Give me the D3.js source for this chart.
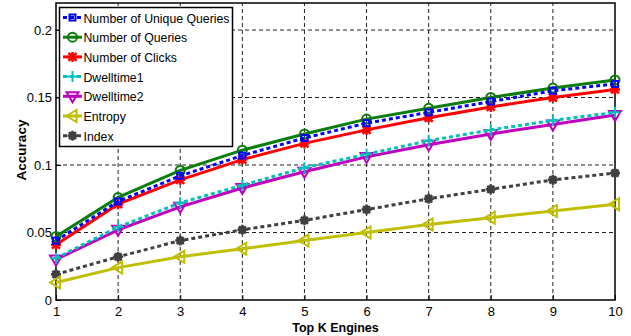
<!DOCTYPE html>
<html>
<head>
<meta charset="utf-8">
<script src="https://cdn.jsdelivr.net/npm/d3@7.9.0/dist/d3.min.js"></script>
<style>
  body { margin: 0; background: #fff; }
  svg text { font-family: "Liberation Sans", Arial, sans-serif; }
</style>
</head>
<body>
<svg id="chart" width="631" height="336"></svg>
<script>
// data
const topK = [1, 2, 3, 4, 5, 6, 7, 8, 9, 10];
const uniqueQueries = [0.044, 0.073, 0.092, 0.107, 0.120, 0.131, 0.139, 0.147, 0.155, 0.160];
const numQueries = [0.047, 0.076, 0.096, 0.111, 0.123, 0.134, 0.142, 0.150, 0.157, 0.163];
const numClicks = [0.041, 0.071, 0.089, 0.104, 0.116, 0.126, 0.135, 0.143, 0.150, 0.156];
const dwell1 = [0.031, 0.054, 0.072, 0.085, 0.098, 0.108, 0.118, 0.126, 0.133, 0.139];
const dwell2 = [0.030, 0.052, 0.069, 0.083, 0.095, 0.106, 0.115, 0.123, 0.130, 0.137];
const entropy = [0.013, 0.024, 0.032, 0.038, 0.044, 0.050, 0.056, 0.061, 0.066, 0.071];
const indexVals = [0.019, 0.032, 0.044, 0.052, 0.059, 0.067, 0.075, 0.082, 0.089, 0.094];
const yTicks = [0, 0.05, 0.1, 0.15, 0.2];

const series = [
  { name: 'Number of Unique Queries', values: uniqueQueries, color: '#0000ff', dash: '4,3', marker: 'square' },
  { name: 'Number of Queries', values: numQueries, color: '#0a7d0a', dash: null, marker: 'circle' },
  { name: 'Number of Clicks', values: numClicks, color: '#ff0000', dash: null, marker: 'star' },
  { name: 'Dwelltime1', values: dwell1, color: '#00bfbf', dash: '4,3', marker: 'plus' },
  { name: 'Dwelltime2', values: dwell2, color: '#bf00bf', dash: null, marker: 'triDown' },
  { name: 'Entropy', values: entropy, color: '#bfbf00', dash: null, marker: 'triLeft' },
  { name: 'Index', values: indexVals, color: '#404040', dash: '4,3', marker: 'blob' }
];

const svg = d3.select('#chart');
const margin = { left: 56, right: 16, top: 3, bottom: 36 };
const W = 631, H = 336;

const x = d3.scaleLinear().domain([1, 10]).range([margin.left, W - margin.right]);
const y = d3.scaleLinear().domain([0, 0.22]).range([H - margin.bottom, margin.top]);

// grid
const grid = svg.append('g');
grid.selectAll('line.vx').data(topK.slice(1, -1)).enter().append('line')
  .attr('x1', d => x(d)).attr('x2', d => x(d))
  .attr('y1', y(0)).attr('y2', y(0.22))
  .attr('stroke', '#222').attr('stroke-width', 1).attr('stroke-dasharray', '4,3');
grid.selectAll('line.hy').data(yTicks.slice(1)).enter().append('line')
  .attr('x1', x(1)).attr('x2', x(10))
  .attr('y1', d => y(d)).attr('y2', d => y(d))
  .attr('stroke', '#222').attr('stroke-width', 1).attr('stroke-dasharray', '4,3');

// axes
const xAxis = d3.axisBottom(x).tickValues(topK).tickSize(-5).tickPadding(7).tickFormat(d3.format('d'));
const yAxis = d3.axisLeft(y).tickValues(yTicks).tickSize(-5).tickPadding(4).tickFormat(d => d === 0 ? '0' : String(d));

const gx = svg.append('g').attr('transform', `translate(0,${y(0)})`).call(xAxis);
const gy = svg.append('g').attr('transform', `translate(${x(1)},0)`).call(yAxis);
[gx, gy].forEach(g => {
  g.select('.domain').remove();
  g.selectAll('.tick line').attr('stroke', '#000');
  g.selectAll('.tick text').attr('font-size', 13).attr('fill', '#000');
});

// frame
svg.append('rect')
  .attr('x', x(1)).attr('y', y(0.22))
  .attr('width', x(10) - x(1)).attr('height', y(0) - y(0.22))
  .attr('fill', 'none').attr('stroke', '#000').attr('stroke-width', 1.5);

function drawMarker(g, type, color, cx, cy) {
  const s = 4;
  if (type === 'square') {
    g.append('rect').attr('x', cx - 3).attr('y', cy - 3).attr('width', 6).attr('height', 6)
      .attr('fill', 'none').attr('stroke', color).attr('stroke-width', 2);
  } else if (type === 'circle') {
    g.append('circle').attr('cx', cx).attr('cy', cy).attr('r', 4.5)
      .attr('fill', 'none').attr('stroke', color).attr('stroke-width', 2);
  } else if (type === 'star') {
    const p = d3.path();
    p.moveTo(cx - s, cy - s); p.lineTo(cx + s, cy + s);
    p.moveTo(cx - s, cy + s); p.lineTo(cx + s, cy - s);
    p.moveTo(cx, cy - s - 1); p.lineTo(cx, cy + s + 1);
    p.moveTo(cx - s - 1, cy); p.lineTo(cx + s + 1, cy);
    g.append('path').attr('d', p.toString()).attr('stroke', color).attr('stroke-width', 2.5).attr('fill', 'none');
  } else if (type === 'plus') {
    const p = d3.path();
    p.moveTo(cx, cy - 5.5); p.lineTo(cx, cy + 5.5);
    p.moveTo(cx - 5.5, cy); p.lineTo(cx + 5.5, cy);
    g.append('path').attr('d', p.toString()).attr('stroke', color).attr('stroke-width', 2).attr('fill', 'none');
  } else if (type === 'triDown') {
    g.append('path').attr('d', `M${cx - 6},${cy - 4}L${cx + 6},${cy - 4}L${cx},${cy + 6}Z`)
      .attr('fill', 'none').attr('stroke', color).attr('stroke-width', 2);
  } else if (type === 'triLeft') {
    g.append('path').attr('d', `M${cx + 4},${cy - 6}L${cx + 4},${cy + 6}L${cx - 6},${cy}Z`)
      .attr('fill', 'none').attr('stroke', color).attr('stroke-width', 2);
  } else if (type === 'blob') {
    const p = d3.path();
    for (let k = 0; k < 4; k++) {
      const a = k * Math.PI / 4;
      p.moveTo(cx - 5 * Math.cos(a), cy - 5 * Math.sin(a));
      p.lineTo(cx + 5 * Math.cos(a), cy + 5 * Math.sin(a));
    }
    g.append('circle').attr('cx', cx).attr('cy', cy).attr('r', 4).attr('fill', color);
    g.append('path').attr('d', p.toString()).attr('stroke', color).attr('stroke-width', 2.5).attr('fill', 'none');
  }
}

const line = d3.line().x((d, i) => x(topK[i])).y(d => y(d));

// draw series bottom to top so the top lines sit above
const order = [6, 5, 4, 3, 2, 1, 0];
order.forEach(idx => {
  const s = series[idx];
  const g = svg.append('g');
  g.append('path').datum(s.values).attr('d', line)
    .attr('fill', 'none').attr('stroke', s.color).attr('stroke-width', 3)
    .attr('stroke-dasharray', s.dash);
  s.values.forEach((v, i) => drawMarker(g, s.marker, s.color, x(topK[i]), y(v)));
});

// legend
const lg = svg.append('g');
lg.append('rect').attr('x', 59.5).attr('y', 7.5).attr('width', 173).attr('height', 139)
  .attr('fill', '#fff').attr('stroke', '#000').attr('stroke-width', 1.5);
series.forEach((s, i) => {
  const ly = 17.5 + i * 19.7;
  lg.append('line').attr('x1', 63).attr('x2', 82).attr('y1', ly).attr('y2', ly)
    .attr('stroke', s.color).attr('stroke-width', 3).attr('stroke-dasharray', s.dash);
  drawMarker(lg, s.marker, s.color, 72.5, ly);
  lg.append('text').attr('transform', `translate(83.5,${ly + 5}) scale(0.91,1)`)
    .attr('font-size', 13.5).attr('fill', '#000')
    .text(s.name);
});

// axis labels
svg.append('text').attr('x', (x(1) + x(10)) / 2).attr('y', 332).attr('text-anchor', 'middle')
  .attr('font-size', 12.5).attr('font-weight', 'bold').text('Top K Engines');
svg.append('text').attr('transform', `translate(26,150) rotate(-90)`)
  .attr('text-anchor', 'middle').attr('font-size', 13.5).attr('font-weight', 'bold').text('Accuracy');
</script>
</body>
</html>
